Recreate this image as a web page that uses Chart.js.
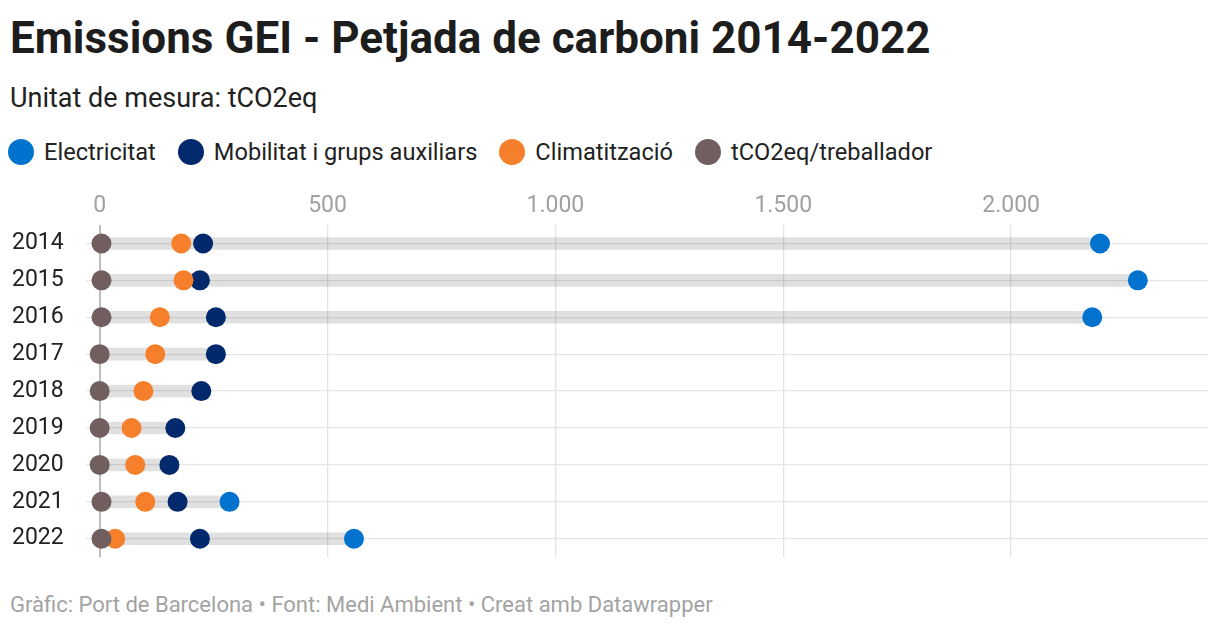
<!DOCTYPE html>
<html>
<head>
<meta charset="utf-8">
<script src="https://cdn.jsdelivr.net/npm/chart.js@4"></script>
<style>
  html, body { margin: 0; padding: 0; background: #fff; }
  body { width: 1220px; height: 628px; position: relative; overflow: hidden; font-family: Roboto, "Noto Sans", sans-serif; color: #1d1d1d; }
  #title { position: absolute; left: 10px; top: 10px; font-size: 44px; font-weight: 700; line-height: 56px; }
  #subtitle { position: absolute; left: 10px; top: 82px; font-size: 27px; line-height: 32px; color: #222; }
  #legend { position: absolute; left: 8px; top: 138px; display: flex; align-items: center; font-size: 23.6px; line-height: 28px; color: #222; }
  .item { display: flex; align-items: center; margin-right: 22px; }
  .dot { width: 26px; height: 26px; border-radius: 50%; margin-right: 10px; }
  #wrap { position: absolute; left: 0; top: 174.5px; width: 1220px; height: 399px; }
  #footer { position: absolute; left: 10px; top: 592px; font-size: 22px; line-height: 26px; color: #a3a3a3; }
</style>
</head>
<body>
<div id="title">Emissions GEI - Petjada de carboni 2014-2022</div>
<div id="subtitle">Unitat de mesura: tCO2eq</div>
<div id="legend"></div>
<div id="wrap"><canvas id="chart"></canvas></div>
<div id="footer">Gràfic: Port de Barcelona • Font: Medi Ambient • Creat amb Datawrapper</div>
<script>
// ---- Data (tCO2eq) ----
const years         = ['2014', '2015', '2016', '2017', '2018', '2019', '2020', '2021', '2022'];
const electricitat  = [2195, 2278, 2178, null, null, null, null, 285, 558];
const mobilitat     = [227, 220, 255, 255, 223, 166, 153, 171, 220];
const climatitzacio = [179, 184, 132, 122, 96, 70, 78, 100, 34];
const perTreballador = [4, 4, 4, 0, 0, 0, 0, 4, 4];
const xTicks        = [0, 500, 1000, 1500, 2000];

const seriesNames  = ['Electricitat', 'Mobilitat i grups auxiliars', 'Climatització', 'tCO2eq/treballador'];
const seriesColors = ['#0173ce', '#01296b', '#f57f2a', '#705f5e'];
const seriesData   = [electricitat, mobilitat, climatitzacio, perTreballador];

// ---- Legend ----
const legend = document.getElementById('legend');
seriesNames.forEach((name, i) => {
  const el = document.createElement('div');
  el.className = 'item';
  el.innerHTML = `<span class="dot" style="background:${seriesColors[i]}"></span><span>${name}</span>`;
  legend.appendChild(el);
});

// range bar per year: min..max of all series
const ranges = years.map((_, i) => {
  const vals = seriesData.map(s => s[i]).filter(v => v !== null);
  return [Math.min(...vals), Math.max(...vals)];
});

const dotSets = seriesNames.map((name, i) => ({
  type: 'line',
  label: name,
  data: seriesData[i],
  indexAxis: 'y',
  showLine: false,
  pointRadius: 10,
  pointHoverRadius: 10,
  pointBorderWidth: 0,
  pointBackgroundColor: seriesColors[i],
  borderColor: seriesColors[i],
  order: 4 - i
}));

const fmt = v => v.toLocaleString('de-DE');

new Chart(document.getElementById('chart'), {
  type: 'bar',
  data: {
    labels: years,
    datasets: [
      {
        type: 'bar',
        label: 'rang',
        data: ranges,
        backgroundColor: 'rgba(0,0,0,0.12)',
        barThickness: 12,
        borderSkipped: false,
        order: 10
      },
      ...dotSets
    ]
  },
  options: {
    indexAxis: 'y',
    responsive: true,
    maintainAspectRatio: false,
    animation: false,
    layout: { padding: { left: 12, right: 12, top: 0, bottom: 0 } },
    plugins: { legend: { display: false }, tooltip: { enabled: false } },
    scales: {
      x: {
        type: 'linear',
        position: 'top',
        min: -30,
        max: 2432,
        afterBuildTicks: s => { s.ticks = xTicks.map(v => ({ value: v })); },
        afterFit: s => { s.height = 50; },
        border: { display: false },
        grid: {
          drawTicks: false,
          color: c => c.tick && c.tick.value === 0 ? '#bdbdbd' : '#e3e3e3',
          lineWidth: c => c.tick && c.tick.value === 0 ? 2 : 1.3
        },
        ticks: {
          padding: 5,
          color: '#a0a0a0',
          font: { family: 'Roboto', size: 23 },
          callback: v => fmt(v)
        }
      },
      y: {
        type: 'category',
        offset: true,
        afterFit: s => { s.width = 74; },
        border: { display: false },
        grid: { offset: false, drawTicks: false, color: '#e6e6e6', lineWidth: 1.3 },
        ticks: {
          crossAlign: 'far',
          color: '#222',
          font: { family: 'Roboto', size: 23 }
        }
      }
    }
  }
});
</script>
</body>
</html>
